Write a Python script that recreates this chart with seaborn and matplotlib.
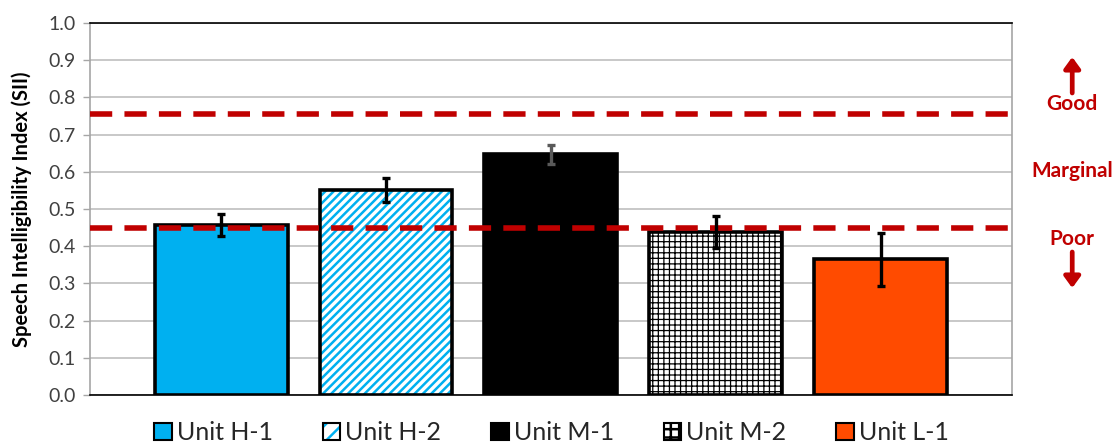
import matplotlib
matplotlib.use("Agg")
import matplotlib.pyplot as plt
from matplotlib.patches import Patch
from matplotlib.legend_handler import HandlerTuple
import seaborn as sns
import numpy as np
import pandas as pd

units = ["Unit H-1", "Unit H-2", "Unit M-1", "Unit M-2", "Unit L-1"]
sii = [0.457, 0.551, 0.647, 0.438, 0.365]
err = [0.030, 0.033, 0.025, 0.044, 0.071]
err_colors = ["black", "black", "#595959", "black", "black"]
fills = ["#00B0F0", "white", "black", "white", "#FF4B00"]
hatch_colors = [None, "#00B0F0", None, "black", None]
hatches = [None, "////", None, "+++", None]
hatch_lw = [None, 1.8, None, 0.9, None]
thresholds = [0.45, 0.755]
zone_labels = ["Good", "Marginal", "Poor"]

sns.set_theme(style="white")
plt.rcParams["font.family"] = ["Lato", "DejaVu Sans"]
plt.rcParams["hatch.linewidth"] = 1.8

df = pd.DataFrame({"unit": units, "sii": sii})

fig = plt.figure(figsize=(11.14, 4.46), dpi=100)
ax = fig.add_axes([0.0808, 0.1143, 0.8276, 0.8341])

bw = 0.806
sns.barplot(data=df, x="unit", y="sii", hue="unit", palette=fills, legend=False,
            width=bw, linewidth=0, saturation=1, ax=ax, zorder=2)

x = np.arange(len(units))
for i, p in enumerate(ax.patches[:len(units)]):
    if hatches[i]:
        p.set_hatch(hatches[i])
        p.set_edgecolor(hatch_colors[i])
        p.set_linewidth(0)
        if hasattr(p, "set_hatch_linewidth"):
            p.set_hatch_linewidth(hatch_lw[i])
# outlines
ax.bar(x, sii, width=bw, fill=False, edgecolor="black", linewidth=2.6, zorder=3)

for i in range(len(units)):
    ax.errorbar(x[i], sii[i], yerr=err[i], fmt="none", ecolor=err_colors[i],
                elinewidth=2.4, capsize=3, capthick=2.4, zorder=5)

for t in thresholds:
    ax.axhline(t, color="#C00000", linewidth=4, dashes=(4, 2.2), zorder=4)

ax.set_xlim(-0.794, 4.794)
ax.set_ylim(0, 1.0)
ax.set_yticks(np.arange(0, 1.01, 0.1))
ax.set_yticklabels([f"{v:.1f}" for v in np.arange(0, 1.01, 0.1)], fontsize=14, color="#404040")
ax.set_xticks([])
ax.set_xlabel("")
ax.set_ylabel("Speech Intelligibility Index (SII)", fontsize=14.5, fontweight="bold",
              color="black", labelpad=12)
ax.yaxis.grid(True, color="#BFBFBF", linewidth=1.2, zorder=0)
ax.set_axisbelow(True)
ax.tick_params(axis="y", length=5, width=1, color="#A6A6A6", left=True, pad=5)
for side in ["left", "right"]:
    ax.spines[side].set_color("#A6A6A6")
    ax.spines[side].set_linewidth(1.2)
for side in ["top", "bottom"]:
    ax.spines[side].set_color("black")
    ax.spines[side].set_linewidth(1.2)

handles = []
for i in range(len(units)):
    if hatches[i]:
        h = Patch(facecolor="white", edgecolor=hatch_colors[i], hatch=hatches[i][:2], linewidth=0)
        if hasattr(h, "set_hatch_linewidth"):
            h.set_hatch_linewidth(hatch_lw[i])
        handles.append((h, Patch(facecolor="none", edgecolor="black", linewidth=1.5)))
    else:
        handles.append(Patch(facecolor=fills[i], edgecolor="black", linewidth=1.5))
leg = fig.legend(handles, units, loc="center", bbox_to_anchor=(0.495, 0.03), ncol=5,
                 frameon=False, fontsize=18, handlelength=0.7, handleheight=0.7,
                 handletextpad=0.2, columnspacing=2.0,
                 handler_map={tuple: HandlerTuple(ndivide=1, pad=0)})

red = "#C00000"
fig.text(0.9625, 1 - 104 / 446, zone_labels[0], color=red, fontsize=15, fontweight="bold",
         ha="center", va="center")
fig.text(0.9625, 1 - 171 / 446, zone_labels[1], color=red, fontsize=15, fontweight="bold",
         ha="center", va="center")
fig.text(0.9625, 1 - 239 / 446, zone_labels[2], color=red, fontsize=15, fontweight="bold",
         ha="center", va="center")
ax.annotate("", xy=(0.9625, 1 - 57 / 446), xytext=(0.9625, 1 - 93 / 446),
            xycoords="figure fraction", textcoords="figure fraction",
            arrowprops=dict(arrowstyle="-|>,head_length=0.55,head_width=0.4", color=red,
                            lw=3.4, shrinkA=0, shrinkB=0))
ax.annotate("", xy=(0.9625, 1 - 288 / 446), xytext=(0.9625, 1 - 252 / 446),
            xycoords="figure fraction", textcoords="figure fraction",
            arrowprops=dict(arrowstyle="-|>,head_length=0.55,head_width=0.4", color=red,
                            lw=3.4, shrinkA=0, shrinkB=0))

fig.savefig("out.png", dpi=100)
